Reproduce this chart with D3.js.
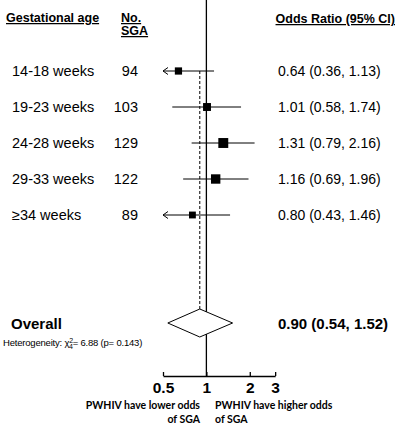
<!DOCTYPE html>
<html>
<head>
<meta charset="utf-8">
<script src="https://cdn.jsdelivr.net/npm/d3@7"></script>
<style>
  body { margin: 0; background: #fff; }
  svg text { font-family: "Liberation Sans", Arial, sans-serif; fill: #000; }
</style>
</head>
<body>
<div id="chart"></div>
<script>
// data
var ages = ["14-18 weeks", "19-23 weeks", "24-28 weeks", "29-33 weeks", "\u226534 weeks"];
var nSGA = [94, 103, 129, 122, 89];
var or = [0.64, 1.01, 1.31, 1.16, 0.80];
var lo = [0.36, 0.58, 0.79, 0.69, 0.43];
var hi = [1.13, 1.74, 2.16, 1.96, 1.46];
var overall = {or: 0.90, lo: 0.54, hi: 1.52};
var ticks = [0.5, 1, 2, 3];

var width = 400, height = 428;

var svg = d3.select("#chart").append("svg")
    .attr("width", width)
    .attr("height", height);

// log scale on the odds ratio
var x = d3.scaleLog()
  .domain([0.5, 3])
  .range([163, 207 + 43 * Math.log2(3)]);

var y = d3.scalePoint()
  .domain(ages)
  .range([71, 215]);

var axisY = 376, diamondY = 323;

var fmt = d3.format(".2f");

// headers
function header(txt, xx, yy, anchor) {
  svg.append("text")
    .attr("x", xx).attr("y", yy)
    .attr("text-anchor", anchor || "start")
    .style("font-size", "12.5px").style("font-weight", "bold")
    .style("text-decoration", "underline")
    .text(txt);
}
header("Gestational age", 6, 22);
header("No.", 121, 22);
header("SGA", 121, 35);
header("Odds Ratio (95% CI)", 395, 23, "end");

// no-effect line
svg.append("line")
  .attr("x1", x(1)).attr("x2", x(1))
  .attr("y1", 0).attr("y2", axisY)
  .attr("stroke", "#000").attr("stroke-width", 1.3);

// overall OR dashed line
svg.append("line")
  .attr("x1", x(overall.or)).attr("x2", x(overall.or))
  .attr("y1", y(ages[0])).attr("y2", diamondY - 14)
  .attr("stroke", "#000").attr("stroke-width", 1)
  .attr("stroke-dasharray", "3,2");

var rows = ages.map(function(a, i) {
  return {age: a, n: nSGA[i], or: or[i], lo: lo[i], hi: hi[i]};
});

var xmin = x.domain()[0];

var g = svg.selectAll(".row").data(rows).enter().append("g")
  .attr("class", "row")
  .attr("transform", function(d) { return "translate(0," + y(d.age) + ")"; });

g.append("text")
  .attr("x", 12).attr("y", 5)
  .style("font-size", "14.5px")
  .text(function(d) { return d.age; });

g.append("text")
  .attr("x", 138).attr("y", 5)
  .attr("text-anchor", "end")
  .style("font-size", "14.5px")
  .text(function(d) { return d.n; });

g.append("text")
  .attr("x", 278).attr("y", 5)
  .style("font-size", "14px")
  .text(function(d) { return fmt(d.or) + " (" + fmt(d.lo) + ", " + fmt(d.hi) + ")"; });

// CI lines, clipped at axis minimum
g.append("line")
  .attr("x1", function(d) { return x(Math.max(d.lo, xmin)); })
  .attr("x2", function(d) { return x(d.hi); })
  .attr("y1", 0).attr("y2", 0)
  .attr("stroke", "#000").attr("stroke-width", 1);

// arrowheads where the CI runs off the axis
g.filter(function(d) { return d.lo < xmin; })
  .append("path")
  .attr("d", function() {
    var x0 = x(xmin);
    return "M" + (x0 + 5) + ",-3.5L" + x0 + ",0L" + (x0 + 5) + ",3.5";
  })
  .attr("fill", "none").attr("stroke", "#000").attr("stroke-width", 1);

// boxes sized by n
g.append("rect")
  .attr("x", function(d) { return x(d.or) - d.n / 26; })
  .attr("y", function(d) { return -d.n / 26; })
  .attr("width", function(d) { return d.n / 13; })
  .attr("height", function(d) { return d.n / 13; })
  .attr("fill", "#000");

// overall diamond
svg.append("path")
  .attr("d", "M" + x(overall.lo) + "," + diamondY +
             "L" + x(overall.or) + "," + (diamondY - 14) +
             "L" + x(overall.hi) + "," + diamondY +
             "L" + x(overall.or) + "," + (diamondY + 14) + "Z")
  .attr("fill", "#fff").attr("stroke", "#000").attr("stroke-width", 1);

svg.append("text")
  .attr("x", 11).attr("y", 329)
  .style("font-size", "15px").style("font-weight", "bold")
  .text("Overall");

svg.append("text")
  .attr("x", 278).attr("y", 329)
  .style("font-size", "15px").style("font-weight", "bold")
  .text(fmt(overall.or) + " (" + fmt(overall.lo) + ", " + fmt(overall.hi) + ")");

var het = svg.append("text")
  .attr("x", 3).attr("y", 346)
  .style("font-size", "9.5px")
  .style("letter-spacing", "-0.2px");
het.append("tspan").text("Heterogeneity: \u03c7");
het.append("tspan").attr("dy", -3.5).style("font-size", "7px").text("2");
het.append("tspan").attr("dx", -4).attr("dy", 6).style("font-size", "7px").text("4");
het.append("tspan").attr("dy", -2.5).text("= 6.88 (p=  0.143)");

// axis
var axis = svg.append("g")
  .attr("transform", "translate(0," + axisY + ")")
  .call(d3.axisBottom(x).tickValues(ticks).tickFormat(d3.format("")).tickSize(-4).tickSizeOuter(0).tickPadding(6));
axis.select(".domain").attr("stroke-width", 1.3);
axis.selectAll(".tick line").attr("stroke-width", 1.3);
axis.selectAll(".tick text")
  .style("font-size", "15.5px").style("font-weight", "bold")
  .style("font-family", "'Liberation Sans', Arial, sans-serif");

// bottom captions
function caption(txt, xx, yy, anchor) {
  svg.append("text")
    .attr("x", xx).attr("y", yy)
    .attr("text-anchor", anchor)
    .style("font-size", "10.5px").style("font-weight", "bold")
    .style("font-family", "Lato, 'Open Sans', sans-serif")
    .text(txt);
}
caption("PWHIV have lower odds", 200, 409, "end");
caption("of SGA", 200, 423, "end");
caption("PWHIV have higher odds", 215, 409, "start");
caption("of SGA", 215, 423, "start");
</script>
</body>
</html>
